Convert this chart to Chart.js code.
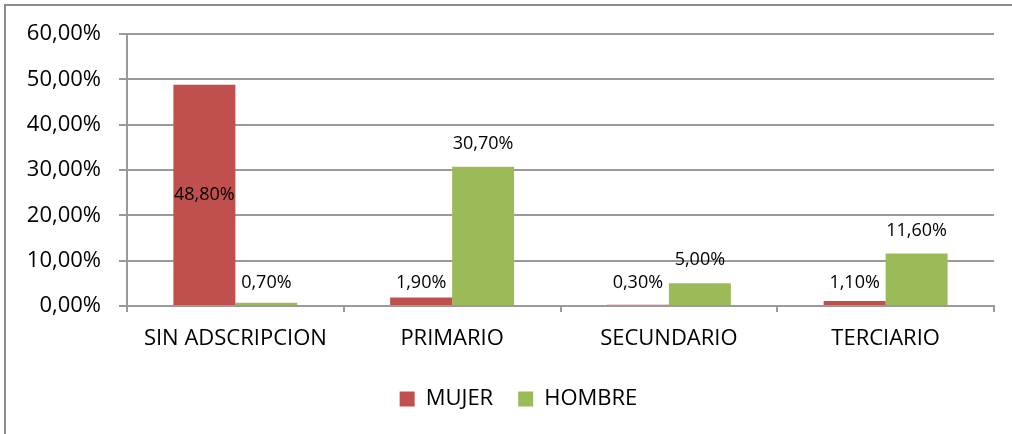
<!DOCTYPE html>
<html lang="es">
  <head>
    <meta charset="UTF-8" />
    <script src="https://cdn.jsdelivr.net/npm/chart.js@4.4.0/dist/chart.umd.min.js"></script>
    <title>Mujer / Hombre</title>
    <style>
      body { margin: 0; padding: 0; background: #fff; }
      .container { position: relative; width: 1012px; height: 434px; }
    </style>
  </head>
  <body>
    <div class="container">
      <canvas id="chart"></canvas>
    </div>
    <script>
      const categories = ['SIN ADSCRIPCION', 'PRIMARIO', 'SECUNDARIO', 'TERCIARIO']
      const mujer = [48.8, 1.9, 0.3, 1.1]
      const hombre = [0.7, 30.7, 5.0, 11.6]
      const yTicks = [0, 10, 20, 30, 40, 50, 60]

      const FONT = "'Open Sans', sans-serif"
      const pct = (v) => v.toFixed(2).replace('.', ',') + '%'
      const PAD_LEFT = 43

      const frame = {
        id: 'frame',
        // let the y tick labels spill left of the (narrow) y scale box
        afterLayout(chart) {
          chart.scales.y.left = 0
        },
        beforeDraw(chart) {
          const c = chart.ctx
          c.save()
          c.fillStyle = '#fff'
          c.fillRect(0, 0, chart.width, chart.height)
          c.strokeStyle = '#8c8c8c'
          c.lineWidth = 2
          c.beginPath()
          c.moveTo(5, chart.height + 2)
          c.lineTo(5, 5)
          c.lineTo(chart.width + 2, 5)
          c.stroke()
          c.restore()
        },
      }

      const valueLabels = {
        id: 'valueLabels',
        afterDatasetsDraw(chart) {
          const c = chart.ctx
          const y0 = chart.scales.y.getPixelForValue(0)
          c.save()
          c.font = '18px ' + FONT
          c.fillStyle = '#000'
          c.textAlign = 'center'
          c.textBaseline = 'middle'
          chart.data.datasets.forEach((ds, i) => {
            chart.getDatasetMeta(i).data.forEach((bar, j) => {
              const v = ds.data[j]
              let y
              if (v > 40) y = (bar.y + bar.base) / 2
              else if (v < 2) y = y0 - 23
              else y = bar.y - 23
              c.fillText(pct(v), bar.x, y)
            })
          })
          c.restore()
        },
      }

      new Chart(document.getElementById('chart'), {
        type: 'bar',
        data: {
          labels: categories,
          datasets: [
            { label: 'MUJER', data: mujer, backgroundColor: '#C0504D' },
            { label: 'HOMBRE', data: hombre, backgroundColor: '#9BBB59' },
          ],
        },
        options: {
          responsive: true,
          maintainAspectRatio: false,
          animation: false,
          categoryPercentage: 0.572,
          barPercentage: 1,
          layout: { padding: { left: PAD_LEFT, right: 18, top: 34, bottom: 14 } },
          plugins: {
            legend: {
              position: 'bottom',
              labels: {
                boxWidth: 15,
                boxHeight: 15,
                padding: 25,
                color: '#000',
                font: { family: FONT, size: 22 },
              },
            },
            tooltip: { enabled: false },
          },
          scales: {
            x: {
              afterFit: (s) => { s.height = 57 },
              grid: {
                offset: true,
                drawOnChartArea: false,
                tickLength: 6,
                color: '#9a9a9a',
                lineWidth: 2,
              },
              border: { color: '#9a9a9a', width: 2 },
              ticks: {
                color: '#000',
                padding: 14,
                font: { family: FONT, size: 22 },
              },
            },
            y: {
              min: 0,
              max: 60,
              afterFit: (s) => { s.width = 127 - PAD_LEFT },
              afterBuildTicks: (s) => { s.ticks = yTicks.map((v) => ({ value: v })) },
              grid: { color: '#9a9a9a', lineWidth: 2, tickLength: 8 },
              border: { color: '#9a9a9a', width: 2 },
              ticks: {
                color: '#000',
                padding: 18,
                font: { family: FONT, size: 22 },
                callback: (v) => pct(v),
              },
            },
          },
        },
        plugins: [frame, valueLabels],
      })
    </script>
  </body>
</html>
